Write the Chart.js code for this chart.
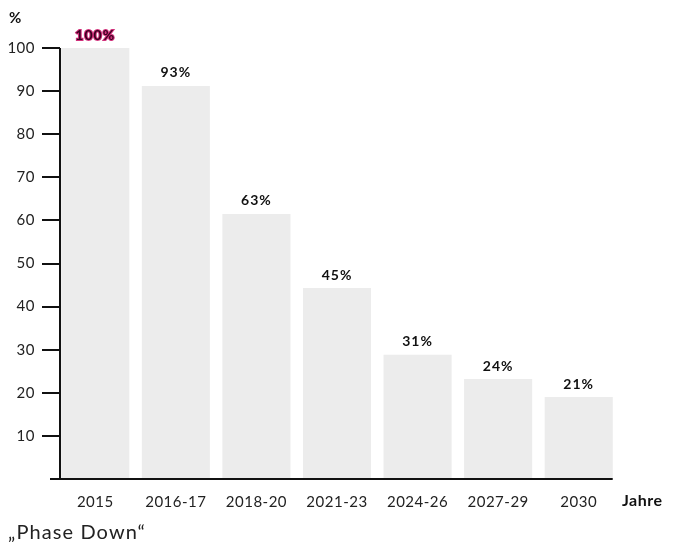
<!DOCTYPE html>
<html>
<head>
<meta charset="utf-8">
<script src="https://cdn.jsdelivr.net/npm/chart.js@4"></script>
<style>
  html, body { margin: 0; padding: 0; background: #fff; }
  canvas { display: block; }
</style>
</head>
<body>
<canvas id="chart" width="678" height="544"></canvas>
<script>
const categories = ['2015', '2016-17', '2018-20', '2021-23', '2024-26', '2027-29', '2030'];
// bar heights as drawn (percent of 2015 baseline)
const barValues = [100, 91.2, 61.5, 44.3, 28.8, 23.2, 19.0];
// labels printed above the bars
const barLabels = ['100%', '93%', '63%', '45%', '31%', '24%', '21%'];
const yTicks = [10, 20, 30, 40, 50, 60, 70, 80, 90, 100];

const FONT = 'Lato, "Open Sans", sans-serif';

// the original typeface runs wider than Lato, so add a little tracking
const spacing = {
  id: 'spacing',
  beforeLayout(chart) { chart.ctx.letterSpacing = '0.5px'; },
  beforeDraw(chart) { chart.ctx.letterSpacing = '0.5px'; }
};

const decorations = {
  id: 'decorations',
  afterDatasetsDraw(chart) {
    const ctx = chart.ctx;
    const y = chart.scales.y;
    const meta = chart.getDatasetMeta(0);
    ctx.save();

    // value labels above bars
    ctx.letterSpacing = '1px';
    ctx.font = 'bold 14px ' + FONT;
    ctx.textAlign = 'center';
    ctx.textBaseline = 'bottom';
    meta.data.forEach((bar, i) => {
      if (i === 0) {
        ctx.strokeStyle = '#d0307a';
        ctx.lineWidth = 2;
        ctx.strokeText(barLabels[i], bar.x, bar.y - 6);
        ctx.fillStyle = '#3a0020';
      } else {
        ctx.fillStyle = '#111';
      }
      ctx.fillText(barLabels[i], bar.x, bar.y - 6);
    });

    // axes
    const axisX = 60;
    ctx.strokeStyle = '#111';
    ctx.lineWidth = 2;
    ctx.beginPath();
    ctx.moveTo(axisX, y.getPixelForValue(100));
    ctx.lineTo(axisX, y.getPixelForValue(0) + 1);
    ctx.stroke();

    ctx.beginPath();
    ctx.moveTo(50, y.getPixelForValue(0));
    ctx.lineTo(meta.data[meta.data.length - 1].x + 34, y.getPixelForValue(0));
    ctx.stroke();

    yTicks.forEach(v => {
      const py = Math.round(y.getPixelForValue(v));
      ctx.beginPath();
      ctx.moveTo(42, py);
      ctx.lineTo(axisX, py);
      ctx.stroke();
    });

    // extra texts
    ctx.fillStyle = '#111';
    ctx.textBaseline = 'middle';
    ctx.textAlign = 'left';
    ctx.letterSpacing = '0.5px';
    ctx.font = 'bold 15px ' + FONT;
    ctx.fillText('%', 9, 18);
    ctx.font = 'bold 16px ' + FONT;
    ctx.fillText('Jahre', 622, 501);
    ctx.letterSpacing = '1.1px';
    ctx.font = '20px ' + FONT;
    ctx.fillStyle = '#222';
    ctx.fillText('\u201EPhase Down\u201C', 8, 533);
    ctx.restore();
  }
};

new Chart(document.getElementById('chart').getContext('2d'), {
  type: 'bar',
  data: {
    labels: categories,
    datasets: [{
      data: barValues,
      backgroundColor: '#ececec',
      borderWidth: 0,
      barPercentage: 0.845,
      categoryPercentage: 1.0
    }]
  },
  options: {
    responsive: false,
    animation: false,
    layout: { padding: { top: 48, right: 59, bottom: 35, left: 0 } },
    plugins: {
      legend: { display: false },
      tooltip: { enabled: false }
    },
    scales: {
      x: {
        offset: true,
        grid: { display: false, drawTicks: false },
        border: { display: false },
        ticks: {
          color: '#222',
          font: { family: FONT, size: 15 },
          padding: 14,
          maxRotation: 0
        },
        afterFit(scale) { scale.height = 30; }
      },
      y: {
        min: 0,
        max: 100,
        grid: { display: false, drawTicks: false },
        border: { display: false },
        ticks: {
          stepSize: 10,
          color: '#222',
          font: { family: FONT, size: 15 },
          padding: 20,
          callback: v => (v === 0 ? '' : v)
        },
        afterFit(scale) { scale.width = 55; }
      }
    }
  },
  plugins: [spacing, decorations]
});
</script>
</body>
</html>
